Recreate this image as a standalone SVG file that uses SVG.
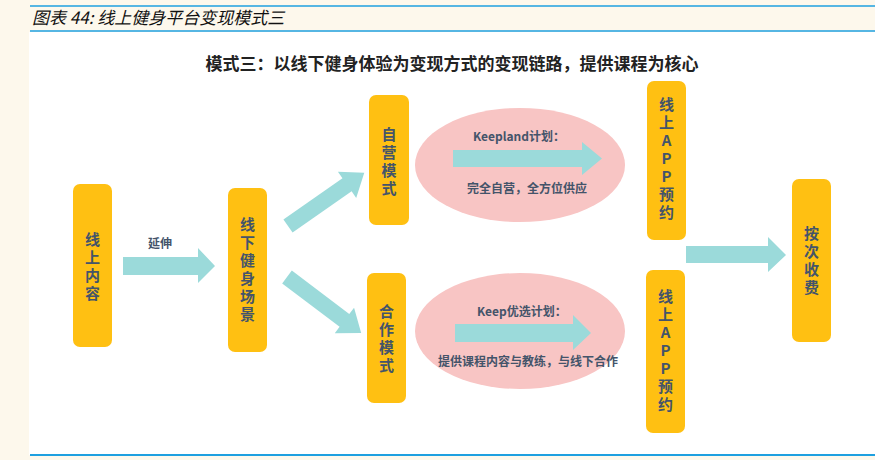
<svg xmlns="http://www.w3.org/2000/svg" width="875" height="460" viewBox="0 0 875 460">
<style>
.box{fill:#FFC012;}
.arr{fill:#9BDADA;}
.ell{fill:#F8C5C4;}
.nt{font-family:"Noto Sans CJK SC","Noto Sans",sans-serif;font-weight:bold;font-size:15px;fill:#44546A;text-anchor:middle;writing-mode:vertical-rl;text-orientation:upright;letter-spacing:3px;}
.st{font-family:"Noto Sans CJK SC","Noto Sans",sans-serif;font-weight:bold;font-size:12px;fill:#44546A;dominant-baseline:central;}
</style>
<rect x="0" y="0" width="875" height="460" fill="#FDF8EC"/>
<rect x="29" y="32" width="846" height="423" fill="#FFFFFF"/>
<line x1="30" y1="6" x2="875" y2="6" stroke="#1EA0E0" stroke-width="1.5"/>
<line x1="30" y1="31" x2="875" y2="31" stroke="#1EA0E0" stroke-width="1.5"/>
<line x1="30" y1="455" x2="875" y2="455" stroke="#1EA0E0" stroke-width="2"/>
<text x="32" y="24" font-family="'Noto Sans CJK SC',sans-serif" font-style="italic" font-size="17" fill="#111">图表 44: 线上健身平台变现模式三</text>
<text x="452" y="62" font-family="'Noto Sans CJK SC',sans-serif" font-weight="bold" font-size="17" fill="#222" text-anchor="middle" dominant-baseline="central">模式三：以线下健身体验为变现方式的变现链路，提供课程为核心</text>

<g id="connectors">
<polygon class="arr" points="123,257 198,257 198,248 215,266 198,283 198,275 123,275"/>
<text class="st" x="160" y="242" text-anchor="middle" font-size="13">延伸</text>
<g transform="translate(288,226) rotate(-34.9)">
<polygon class="arr" points="0,-8 72,-8 72,-16 93,0 72,16 72,8 0,8"/>
</g>
<g transform="translate(287,277) rotate(37.1)">
<polygon class="arr" points="0,-8 72,-8 72,-16 93,0 72,16 72,8 0,8"/>
</g>
<polygon class="arr" points="686,246 768,246 768,237 786,255 768,272 768,263 686,263"/>
</g>

<g id="n-online-content">
<rect class="box" x="73" y="184" width="39" height="163" rx="7"/>
<text class="nt" x="92.5" y="268">线上内容</text>
</g>

<g id="n-offline-scene">
<rect class="box" x="228" y="188" width="39" height="164" rx="7"/>
<text class="nt" x="247.5" y="271">线下健身场景</text>
</g>

<g id="n-self">
<rect class="box" x="369" y="95" width="40" height="130" rx="7"/>
<text class="nt" x="389" y="163">自营模式</text>
</g>

<g id="n-keepland">
<ellipse class="ell" cx="520" cy="165" rx="105" ry="57"/>
<text class="st" x="473" y="135">Keepland计划：</text>
<polygon class="arr" points="453,150 582,150 582,142 602,158.5 582,175 582,167 453,167"/>
<text class="st" x="527" y="187" text-anchor="middle">完全自营，全方位供应</text>
</g>

<g id="n-coop">
<rect class="box" x="367" y="273" width="39" height="130" rx="7"/>
<text class="nt" x="386.5" y="340">合作模式</text>
</g>

<g id="n-keepyx">
<ellipse class="ell" cx="520" cy="331" rx="105" ry="58"/>
<text class="st" x="477" y="310">Keep优选计划：</text>
<polygon class="arr" points="455,324 573,324 573,315 591,333 573,350 573,342 455,342"/>
<text class="st" x="528" y="360" text-anchor="middle">提供课程内容与教练，与线下合作</text>
</g>

<g id="n-app1">
<rect class="box" x="647" y="81" width="39" height="159" rx="7"/>
<text class="nt" x="666.5" y="160">线上APP预约</text>
</g>

<g id="n-app2">
<rect class="box" x="646" y="270" width="39" height="163" rx="7"/>
<text class="nt" x="665.5" y="352">线上APP预约</text>
</g>

<g id="n-fee">
<rect class="box" x="792" y="179" width="39" height="163" rx="7"/>
<text class="nt" x="811.5" y="262">按次收费</text>
</g>
</svg>
